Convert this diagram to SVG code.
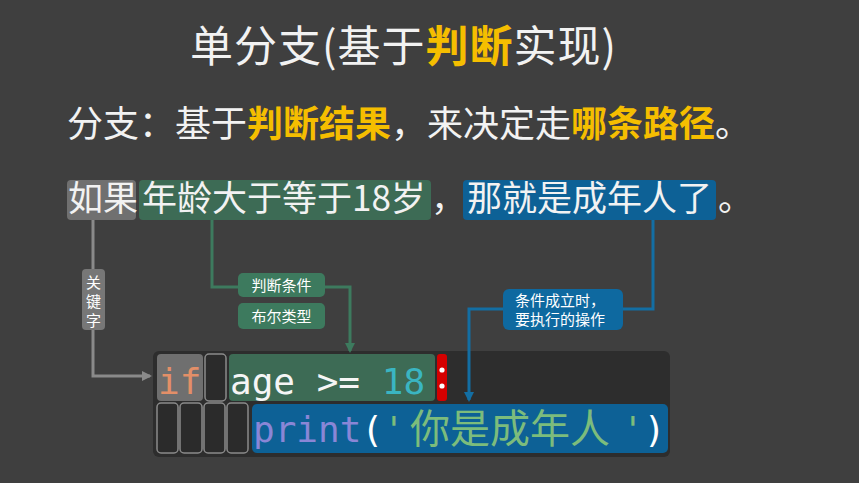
<svg xmlns="http://www.w3.org/2000/svg" width="859" height="483" viewBox="0 0 859 483">
<style>
.cjk{font-family:"Noto Sans CJK SC","Noto Sans",sans-serif}
.w{fill:#f2f2f2}
.y{fill:#f5be00;font-weight:700}
.mono{font-family:"DejaVu Sans Mono","Liberation Mono","Noto Sans CJK SC",monospace;font-size:36px}
.lbl{font-family:"Noto Sans CJK SC",sans-serif;font-size:15px;fill:#ffffff}
.slot{fill:#2b2b2b;stroke:#8a8a8a;stroke-width:1.5}
.con{fill:none;stroke-width:3}
</style>
<defs>
<marker id="ag" markerWidth="10" markerHeight="10" refX="8" refY="5" orient="auto" markerUnits="userSpaceOnUse"><path d="M0,0 L10,5 L0,10 z" fill="#8a8a8a"/></marker>
<marker id="agr" markerWidth="10" markerHeight="10" refX="8" refY="5" orient="auto" markerUnits="userSpaceOnUse"><path d="M0,0 L10,5 L0,10 z" fill="#3d7a5e"/></marker>
<marker id="abl" markerWidth="10" markerHeight="10" refX="8" refY="5" orient="auto" markerUnits="userSpaceOnUse"><path d="M0,0 L10,5 L0,10 z" fill="#136ea3"/></marker>
</defs>
<rect x="0" y="0" width="859" height="483" fill="#3f3f3f"/>

<g id="title">
<text class="cjk" x="190" y="62" font-size="43" letter-spacing="1"><tspan class="w">单分支(基于</tspan><tspan class="y">判断</tspan><tspan class="w">实现)</tspan></text>
</g>
<g id="subtitle">
<text class="cjk" x="67" y="137" font-size="36"><tspan class="w">分支：基于</tspan><tspan class="y">判断结果</tspan><tspan class="w">，来决定走</tspan><tspan class="y">哪条路径</tspan><tspan class="w">。</tspan></text>
</g>

<rect id="code-bg" x="153" y="351" width="517" height="106" rx="6" fill="#2d2d2d"/>

<g id="connectors">
<path class="con" d="M93,220 V376 H150" stroke="#8a8a8a" marker-end="url(#ag)"/>
<path class="con" d="M212,220 V287 H350 V351" stroke="#3d7a5e" marker-end="url(#agr)"/>
<path class="con" d="M653,220 V309 H469 V400" stroke="#136ea3" marker-end="url(#abl)"/>
</g>

<g id="sentence">
<g id="n-ruguo"><rect x="67" y="180" width="69" height="40" rx="4" fill="#707070"/><text class="cjk w" x="68" y="211" font-size="35">如果</text></g>
<g id="n-cond"><rect x="139" y="180" width="292" height="40" rx="4" fill="#3d6b55"/><text class="cjk w" x="142" y="211" font-size="35">年龄大于等于18岁</text></g>
<text class="cjk w" x="431" y="211" font-size="35">，</text>
<g id="n-action"><rect x="463" y="180" width="253" height="40" rx="4" fill="#0d6196"/><text class="cjk w" x="467" y="211" font-size="35">那就是成年人了</text></g>
<text class="cjk w" x="718" y="211" font-size="35">。</text>
</g>

<g id="label-keyword"><rect x="82" y="269" width="23" height="61" rx="4" fill="#777777"/>
<text class="lbl" x="93.5" text-anchor="middle"><tspan x="93.5" y="288">关</tspan><tspan x="93.5" y="307">键</tspan><tspan x="93.5" y="326">字</tspan></text></g>
<g id="label-cond"><rect x="238" y="273" width="87" height="24" rx="5" fill="#3d7a5e"/><text class="lbl" x="281.5" y="291" text-anchor="middle">判断条件</text></g>
<g id="label-bool"><rect x="238" y="303" width="87" height="26" rx="5" fill="#3d7a5e"/><text class="lbl" x="281.5" y="322" text-anchor="middle">布尔类型</text></g>
<g id="label-action"><rect x="503" y="289" width="120" height="41" rx="6" fill="#0e69a0"/><text class="lbl"><tspan x="515" y="306">条件成立时，</tspan><tspan x="515" y="325">要执行的操作</tspan></text></g>

<g id="code">
<g id="c-if"><rect x="157" y="354" width="46" height="47" rx="4" fill="#6f6f6f"/><text class="mono" x="158" y="394" fill="#e38f68">if</text></g>
<rect class="slot" x="205" y="354" width="21" height="47" rx="4"/>
<g id="c-cond"><rect x="229" y="354" width="206" height="47" rx="4" fill="#3d6b55"/><text class="mono" x="230" y="394"><tspan fill="#f5f5f5">age &gt;= </tspan><tspan fill="#3ab5c2">18</tspan></text></g>
<g id="c-colon"><rect x="437" y="354" width="10" height="47" rx="3" fill="#d40000"/><circle cx="442" cy="370" r="2.6" fill="#fff"/><circle cx="442" cy="386" r="2.6" fill="#fff"/></g>
<rect class="slot" x="157" y="403" width="21" height="50" rx="4"/>
<rect class="slot" x="180" y="403" width="22" height="50" rx="4"/>
<rect class="slot" x="204" y="403" width="21" height="50" rx="4"/>
<rect class="slot" x="227" y="403" width="21" height="50" rx="4"/>
<g id="c-print"><rect x="252" y="404" width="416" height="49" rx="5" fill="#0d6196"/>
<text class="mono" x="253" y="442"><tspan fill="#8a86d6">print</tspan><tspan fill="#ffffff">(</tspan><tspan fill="#7cbc7c">'</tspan></text>
<text class="cjk" x="410" y="443" font-size="40" fill="#7cbc7c">你是成年人</text>
<text class="mono" x="622" y="442"><tspan fill="#7cbc7c">'</tspan><tspan fill="#ffffff">)</tspan></text></g>
</g>
</svg>
